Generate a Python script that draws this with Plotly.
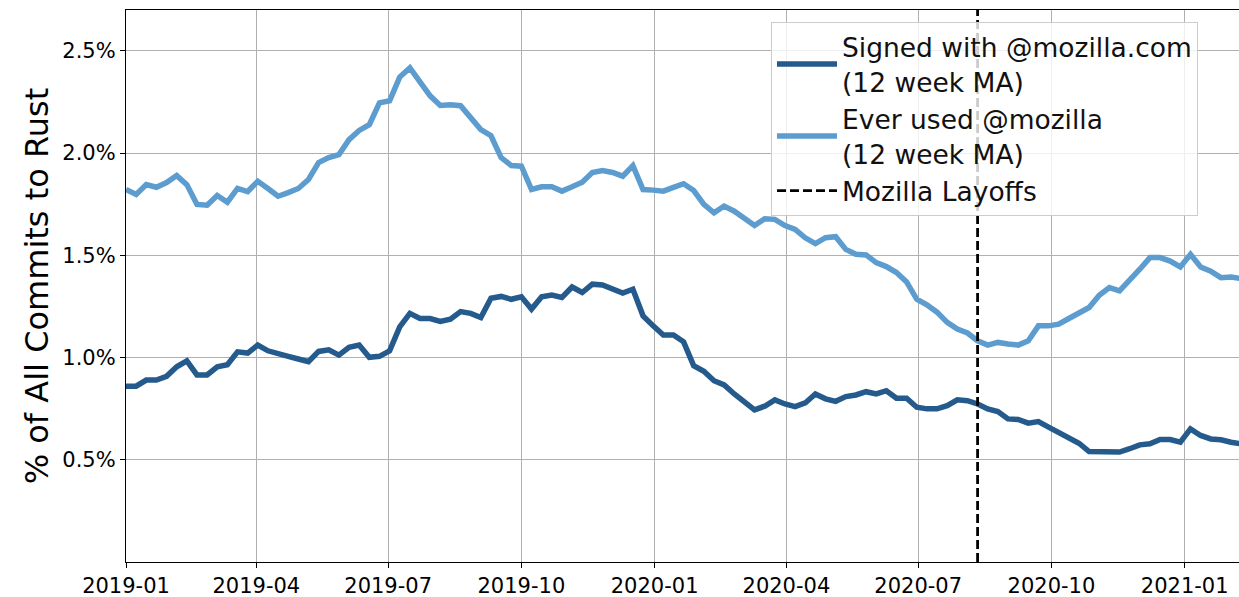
import pandas as pd
import plotly.graph_objects as go

# Weekly dates (12-week moving averages)
dates = pd.date_range("2019-01-01", periods=111, freq="7D")

signed_mozilla = [
    0.860, 0.860, 0.890, 0.890, 0.908, 0.955, 0.984, 0.915, 0.915, 0.955, 0.965, 1.028, 1.022, 1.061,
    1.033, 1.017, 1.006, 0.993, 0.980, 1.030, 1.038, 1.012, 1.050, 1.061, 1.001, 1.006, 1.033, 1.150,
    1.216, 1.191, 1.191, 1.177, 1.188, 1.225, 1.216, 1.196, 1.290, 1.299, 1.285, 1.297, 1.237, 1.297,
    1.306, 1.294, 1.345, 1.318, 1.359, 1.355, 1.334, 1.315, 1.334, 1.204, 1.155, 1.110, 1.110,
    1.077, 0.960, 0.933, 0.887, 0.866, 0.822, 0.781, 0.744, 0.762, 0.793, 0.773, 0.760, 0.778, 0.822,
    0.798, 0.786, 0.809, 0.817, 0.833, 0.822, 0.838, 0.801, 0.801, 0.757, 0.749, 0.749,
    0.765, 0.793, 0.789, 0.773, 0.749, 0.736, 0.700, 0.697, 0.679, 0.687, 0.660, 0.635, 0.611, 0.581,
    0.540, 0.538, 0.538, 0.538, 0.554, 0.573, 0.578, 0.599, 0.599, 0.586, 0.651, 0.619, 0.602, 0.598,
    0.586, 0.578,
]

ever_mozilla = [
    1.822, 1.798, 1.846, 1.833, 1.856, 1.890, 1.846, 1.749, 1.745, 1.793, 1.760, 1.827, 1.812, 1.862,
    1.827, 1.789, 1.807, 1.827, 1.871, 1.954, 1.978, 1.993, 2.066, 2.111, 2.139, 2.246, 2.256, 2.372,
    2.417, 2.344, 2.280, 2.233, 2.237, 2.232, 2.173, 2.115, 2.085, 1.978, 1.939, 1.936, 1.822, 1.835,
    1.835, 1.814, 1.835, 1.858, 1.905, 1.915, 1.905, 1.887, 1.939, 1.822, 1.819, 1.814, 1.832,
    1.850, 1.817, 1.749, 1.708, 1.741, 1.716, 1.680, 1.646, 1.679, 1.676, 1.646, 1.627, 1.586, 1.557,
    1.586, 1.591, 1.529, 1.505, 1.502, 1.464, 1.445, 1.416, 1.370, 1.285, 1.258, 1.222,
    1.172, 1.139, 1.120, 1.082, 1.061, 1.074, 1.066, 1.061, 1.082, 1.155, 1.155, 1.163, 1.191, 1.216,
    1.245, 1.305, 1.342, 1.326, 1.375, 1.432, 1.489, 1.489, 1.472, 1.443, 1.505, 1.443, 1.423, 1.391,
    1.394, 1.386,
]

layoff_date = "2020-08-11"
y_ticks = [0.5, 1.0, 1.5, 2.0, 2.5]
y_tick_labels = ["0.5%", "1.0%", "1.5%", "2.0%", "2.5%"]
x_ticks = ["2019-01-01", "2019-04-01", "2019-07-01", "2019-10-01", "2020-01-01",
           "2020-04-01", "2020-07-01", "2020-10-01", "2021-01-01"]
x_tick_labels = ["2019-01", "2019-04", "2019-07", "2019-10", "2020-01",
                 "2020-04", "2020-07", "2020-10", "2021-01"]
y_max = 2.7

FONT = "DejaVu Sans"

fig = go.Figure()
fig.add_trace(go.Scatter(
    x=dates, y=signed_mozilla, mode="lines",
    name="Signed with @mozilla.com<br>(12 week MA)",
    line=dict(color="#255a8c", width=5.5),
))
fig.add_trace(go.Scatter(
    x=dates, y=ever_mozilla, mode="lines",
    name="Ever used @mozilla<br>(12 week MA)",
    line=dict(color="#5d9ccf", width=5.5),
))
fig.add_trace(go.Scatter(
    x=[layoff_date, layoff_date], y=[0, y_max], mode="lines",
    name="Mozilla Layoffs",
    line=dict(color="black", width=2.8, dash="9px,4px"),
))

fig.update_layout(
    width=1239, height=597,
    margin=dict(l=126, r=0, t=10, b=35),
    paper_bgcolor="white", plot_bgcolor="white",
    font=dict(family=FONT, color="black", size=21),
    showlegend=True,
    legend=dict(
        x=0.5795, y=0.978, xanchor="left", yanchor="top",
        bgcolor="rgba(255,255,255,0.8)", bordercolor="#cccccc", borderwidth=1,
        font=dict(family=FONT, size=26.5, color="#111111"),
        tracegroupgap=0, itemwidth=60,
    ),
    xaxis=dict(
        range=["2019-01-01", "2021-02-07 12:00"],
        tickmode="array", tickvals=x_ticks, ticktext=x_tick_labels,
        showgrid=True, gridcolor="#b0b0b0", gridwidth=1,
        showline=True, linecolor="black", linewidth=1.2, mirror=True,
        ticks="outside", ticklen=5, tickcolor="black",
        tickfont=dict(family=FONT, size=21, color="black"),
        zeroline=False, automargin=False,
    ),
    yaxis=dict(
        range=[0, y_max],
        tickmode="array", tickvals=y_ticks, ticktext=y_tick_labels,
        showgrid=True, gridcolor="#b0b0b0", gridwidth=1,
        showline=True, linecolor="black", linewidth=1.2, mirror=True,
        ticks="outside", ticklen=5, tickcolor="black",
        tickfont=dict(family=FONT, size=21, color="black"),
        zeroline=False, automargin=False,
        title=dict(text="% of All Commits to Rust", font=dict(family=FONT, size=32, color="black"),
                   standoff=4),
    ),
)

fig.write_html(
    "out.html",
    config={"displayModeBar": False},
    post_script="document.body.style.margin='0';document.body.style.overflow='hidden';",
)
